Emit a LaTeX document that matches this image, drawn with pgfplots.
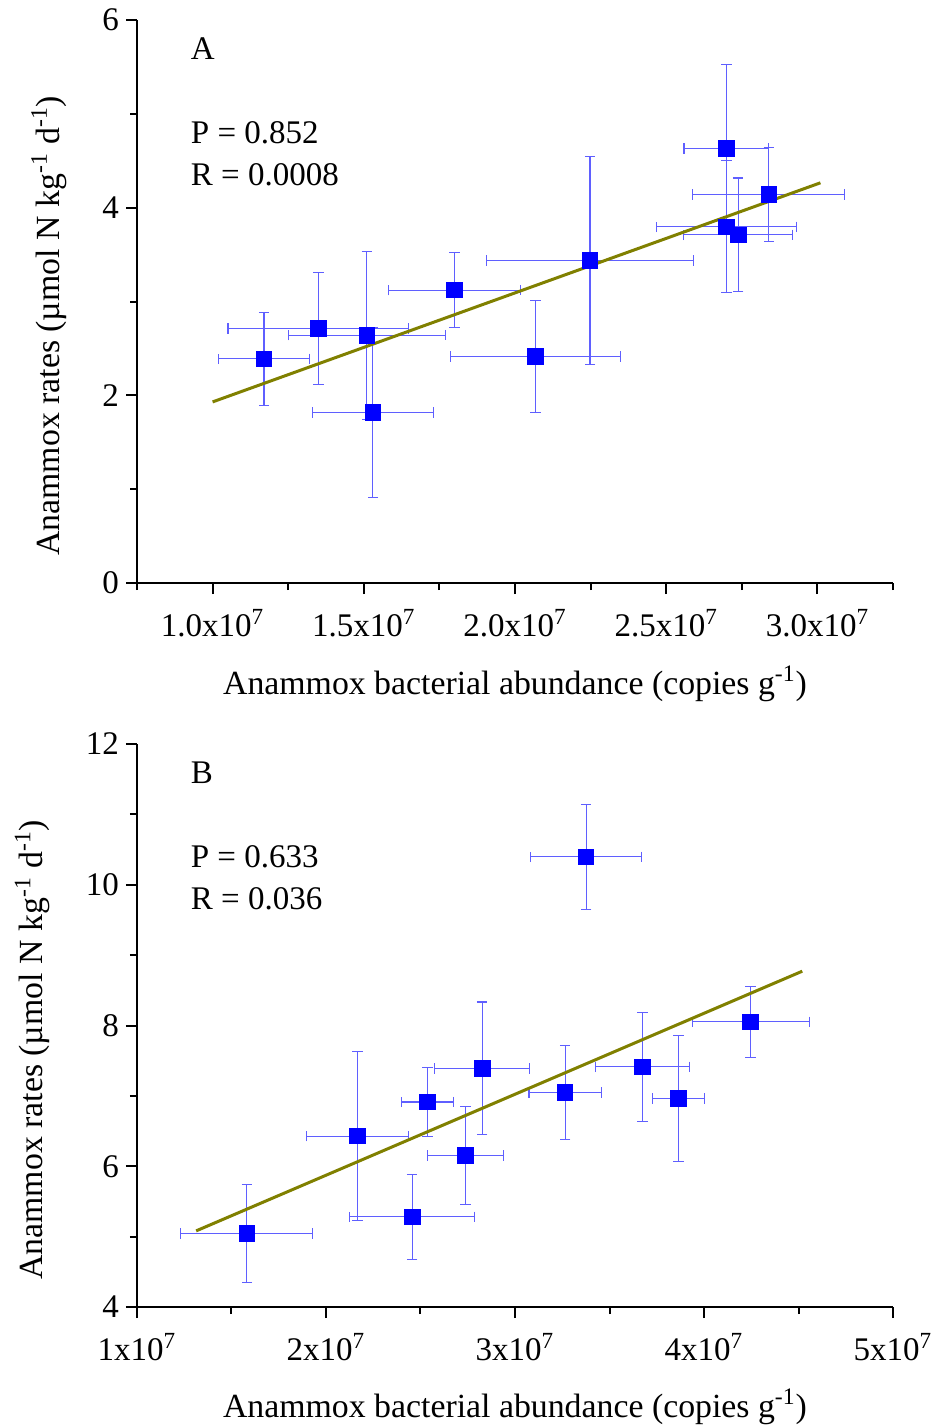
\documentclass[border=0pt]{standalone}
\usepackage{fontspec}
\setmainfont{Liberation Serif}
\usepackage{pgfplots}
\pgfplotsset{compat=1.18}
\usepackage{pgfplotstable}
\definecolor{ebcol}{RGB}{95,95,255}
\definecolor{fitcol}{RGB}{128,128,0}
\definecolor{mkcol}{RGB}{0,0,255}

\pgfplotstableread{
x y ex ey
1.170 2.388 0.150 0.496
1.350 2.714 0.299 0.596
1.510 2.641 0.259 0.896
1.530 1.816 0.199 0.906
1.800 3.122 0.219 0.402
2.068 2.412 0.280 0.598
2.248 3.437 0.341 1.104
2.699 4.629 0.140 0.894
2.699 3.796 0.231 0.704
2.738 3.710 0.180 0.606
2.839 4.139 0.251 0.500
}\dataA

\pgfplotstableread{
x y ex ey
1.581 5.043 0.349 0.696
2.167 6.429 0.268 1.196
2.456 5.283 0.330 0.603
2.537 6.913 0.138 0.495
2.739 6.152 0.201 0.701
2.826 7.391 0.250 0.943
3.265 7.049 0.191 0.663
3.376 10.397 0.292 0.750
3.675 7.413 0.249 0.772
3.866 6.962 0.138 0.894
4.247 8.054 0.310 0.503
}\dataB

\newcommand{\fs}{\fontsize{16.5}{19}\selectfont}
\newcommand{\fl}{\fontsize{16.9}{19}\selectfont}

\pgfplotsset{
  myaxis/.style={
    scale only axis, width=378pt, height=281.5pt,
    axis x line*=bottom, axis y line*=left,
    axis line style={line width=1pt, black, -},
    tick align=outside,
    major tick length=5.5pt, minor tick length=3.5pt,
    every tick/.style={black, line width=1pt},
    every minor tick/.style={black, line width=1pt},
    tick label style={font=\fs},
    xticklabel style={yshift=-4pt},
    label style={font=\fl},
    xlabel style={at={(rel axis cs:0.5,0)}, anchor=center, yshift=-50.5pt},
    ylabel style={at={(ticklabel cs:0.457,11pt)}},
    /pgf/number format/assume math mode=true,
    clip=false,
  },
  mypts/.style={
    only marks, mark=square*, mark size=3.9pt,
    mark options={fill=mkcol, draw=mkcol},
    error bars/.cd, x dir=both, x explicit, y dir=both, y explicit,
    error bar style={ebcol, line width=0.55pt},
    error mark options={rotate=90, ebcol, mark size=2.6pt, line width=0.55pt},
  },
}

\begin{document}
\begin{tikzpicture}
\path[use as bounding box] (0,0) rectangle (466.5pt,-712.5pt);

\begin{axis}[myaxis,
  at={(68.5pt,-291.5pt)}, anchor=south west,
  xmin=0.75, xmax=3.25, ymin=0, ymax=6,
  xtick={1,1.5,2,2.5,3},
  xticklabels={1.0x10\textsuperscript{7},1.5x10\textsuperscript{7},2.0x10\textsuperscript{7},2.5x10\textsuperscript{7},3.0x10\textsuperscript{7}},
  minor xtick={0.75,1.25,1.75,2.25,2.75,3.25},
  ytick={0,2,4,6}, minor ytick={1,3,5},
  xlabel={Anammox bacterial abundance (copies g\textsuperscript{-1})},
  ylabel={Anammox rates (µmol N kg\textsuperscript{-1} d\textsuperscript{-1})},
]
\addplot[mypts] table[x=x, y=y, x error=ex, y error=ey] {\dataA};
\addplot[fitcol, line width=1.5pt] coordinates {(1.0,1.93) (3.01,4.265)};
\node[anchor=west, font=\fs] at (rel axis cs:0.062,0.950) {A};
\node[anchor=west, font=\fs] at (rel axis cs:0.062,0.799) {P = 0.852};
\node[anchor=west, font=\fs] at (rel axis cs:0.062,0.725) {R = 0.0008};
\end{axis}

\begin{axis}[myaxis,
  at={(68.5pt,-653.5pt)}, anchor=south west,
  xmin=1, xmax=5, ymin=4, ymax=12,
  xtick={1,2,3,4,5},
  xticklabels={1x10\textsuperscript{7},2x10\textsuperscript{7},3x10\textsuperscript{7},4x10\textsuperscript{7},5x10\textsuperscript{7}},
  minor xtick={1.5,2.5,3.5,4.5},
  ytick={4,6,8,10,12}, minor ytick={5,7,9,11},
  xlabel style={yshift=0.5pt},
  xlabel={Anammox bacterial abundance (copies g\textsuperscript{-1})},
  ylabel={Anammox rates (µmol N kg\textsuperscript{-1} d\textsuperscript{-1})},
]
\addplot[mypts] table[x=x, y=y, x error=ex, y error=ey] {\dataB};
\addplot[fitcol, line width=1.5pt] coordinates {(1.313,5.082) (4.52,8.772)};
\node[anchor=west, font=\fs] at (rel axis cs:0.062,0.949) {B};
\node[anchor=west, font=\fs] at (rel axis cs:0.062,0.800) {P = 0.633};
\node[anchor=west, font=\fs] at (rel axis cs:0.062,0.725) {R = 0.036};
\end{axis}
\end{tikzpicture}
\end{document}
